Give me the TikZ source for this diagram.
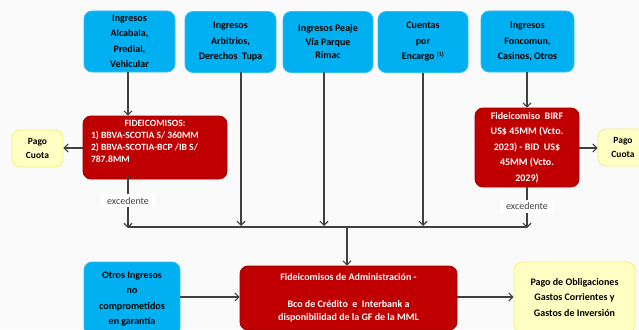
\documentclass[tikz,border=0pt]{standalone}
\usepackage{fontspec}
\setmainfont{Carlito}
\usetikzlibrary{arrows.meta}
\definecolor{cyanbox}{HTML}{00B0F0}
\definecolor{cyanline}{HTML}{33BFF2}
\definecolor{redbox}{HTML}{C00000}
\definecolor{redline}{HTML}{9A0000}
\definecolor{yelbox}{HTML}{FFFFC4}
\definecolor{yelline}{HTML}{F2EE80}
\definecolor{linec}{HTML}{404040}
\definecolor{bgc}{HTML}{FAFAFA}
\tikzset{
  srcbox/.style={draw=cyanline, fill=cyanbox, rounded corners=8pt, line width=0.8pt,
    align=center, text=black, inner sep=2pt,
    font=\bfseries\fontsize{10}{15.5}\selectfont},
  fidbox/.style={draw=redline, fill=redbox, rounded corners=8pt, line width=0.8pt,
    text=white, inner sep=2pt, align=center,
    font=\bfseries\fontsize{10}{14}\selectfont},
  paybox/.style={draw=yelline, fill=yelbox, rounded corners=8pt, line width=0.8pt,
    align=center, text=black, inner sep=2pt,
    font=\bfseries\fontsize{10}{15}\selectfont},
  conn/.style={draw=linec, line width=1.1pt, -{Straight Barb[length=4pt,width=8pt,line width=1.1pt]}},
  plain/.style={draw=linec, line width=1.1pt},
  exclabel/.style={fill=white, text=black!75, inner xsep=6pt, inner ysep=3pt,
    font=\fontsize{10}{12}\selectfont}
}
\begin{document}
\begin{tikzpicture}[x=1pt,y=-1pt]
\useasboundingbox[fill=bgc] (0,0) rectangle (639,329);
\begin{scope}
\clip (0,0) rectangle (639,329);
% top sources
\node[srcbox, minimum width=91pt, minimum height=61pt] (alc) at (129.5,41.5)
  {Ingresos\\Alcabala,\\Predial,\\Vehicular};
\node[srcbox, minimum width=91pt, minimum height=61pt] (arb) at (230.5,42)
  {Ingresos\\Arbitrios,\\Derechos\ \ Tupa};
\node[srcbox, minimum width=90pt, minimum height=61pt, font=\bfseries\fontsize{10}{13.5}\selectfont] (pea) at (328,42)
  {Ingresos Peaje\\Vía Parque\\Rímac};
\node[srcbox, minimum width=90pt, minimum height=61pt] (cue) at (423,42)
  {Cuentas\\por\\Encargo \textsuperscript{\fontsize{6}{7}\selectfont(1)}};
\node[srcbox, minimum width=93pt, minimum height=61pt] (fon) at (527.5,41.5)
  {Ingresos\\Foncomun,\\Casinos, Otros};

% trusts
\node[fidbox, minimum width=144pt, minimum height=63pt, inner xsep=8pt, inner ysep=3pt] (fid) at (155,147.5)
  {\begin{minipage}[t][57pt][t]{128pt}\fontsize{9.6}{12}\selectfont
   \vspace*{1.5pt}\centering FIDEICOMISOS:\par\raggedright
   1) BBVA-SCOTIA S/ 360MM\\
   2) BBVA-SCOTIA-BCP /IB S/\\
   787.8MM\end{minipage}};
\node[fidbox, minimum width=104pt, minimum height=79pt, font=\bfseries\fontsize{10}{15.5}\selectfont] (birf) at (527,147.5)
  {Fideicomiso\ \ BIRF\\US\$ 45MM (Vcto.\\2023) - BID\ \ US\$\\45MM (Vcto.\\2029)};

\node[paybox, minimum width=51pt, minimum height=37pt, font=\bfseries\fontsize{9.5}{14}\selectfont] (payl) at (37.5,148.5) {Pago\\Cuota};
\node[paybox, minimum width=50pt, minimum height=37pt, font=\bfseries\fontsize{9.5}{14}\selectfont] (payr) at (623,147.5) {Pago\\Cuota};

% bottom row
\node[srcbox, minimum width=96pt, minimum height=74pt, font=\bfseries\fontsize{10}{15.3}\selectfont] (otr) at (132,299)
  {Otros Ingresos\\no\\comprometidos\\en garantía};
\node[fidbox, minimum width=217pt, minimum height=64pt, font=\bfseries\fontsize{10}{13.3}\selectfont] (adm) at (348.5,298)
  {Fideicomisos de Administración -\\[13.3pt]Bco de Crédito\ \ e\ \ Interbank a\\disponibilidad de la GF de la MML};
\node[paybox, minimum width=121pt, minimum height=71pt, font=\bfseries\fontsize{10}{15.5}\selectfont] (obl) at (574.5,297.5)
  {Pago de Obligaciones\\Gastos Corrientes y\\Gastos de Inversión};

% junctions
\coordinate (jl) at (128,227);
\coordinate (jr) at (527,227);
\coordinate (jm) at (347,227);
\coordinate (arbtop) at (241,72);
\coordinate (arbend) at (241,226);
\coordinate (peatop) at (324,72);
\coordinate (peaend) at (324,226);
\coordinate (cueend) at (423,226);

% connectors
\draw[conn] (alc.south -| 128,0) -- (fid.north -| 128,0);
\draw[conn] (fid.west |- 0,148) -- (payl.east |- 0,148);
\draw[conn] (birf.east |- 0,148) -- (payr.west |- 0,148);
\draw[conn] (fon.south -| birf.north) -- (birf.north);
\draw[plain] (jl) -- (jr);
\draw[conn] (arbtop) -- (arbend);
\draw[conn] (peatop) -- (peaend);
\draw[conn] (cue.south) -- (cueend);
\draw[conn] ([yshift=3pt]fid.south -| jl) -- node[exclabel, pos=0.47] (excl) {excedente} ([yshift=-1pt]jl);
\draw[conn] (birf.south -| jr) -- node[exclabel, pos=0.47] (excr) {excedente} ([yshift=-1pt]jr);
\draw[conn] (jm) -- (adm.north -| jm);
\draw[conn] (otr.east |- 0,297) -- (adm.west |- 0,297);
\draw[conn] (adm.east |- 0,297) -- (obl.west |- 0,297);
\end{scope}
\end{tikzpicture}
\end{document}
